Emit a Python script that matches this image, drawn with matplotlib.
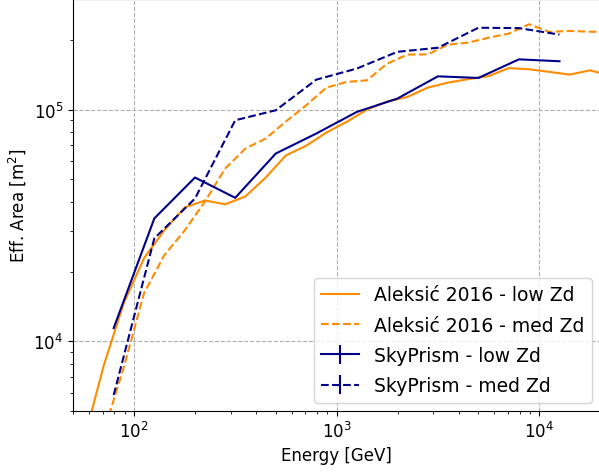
import matplotlib
matplotlib.use("Agg")
import matplotlib.pyplot as plt

plt.rcParams['mathtext.fontset'] = 'dejavusans'

# Aleksic 2016 reference curves (energy in GeV, area in m^2)
e_aleksic = [56, 71, 89, 112, 141, 178, 224, 282, 355, 447, 562, 708, 891,
             1122, 1413, 1778, 2239, 2818, 3548, 4467, 5623, 7079, 8913,
             11220, 14125, 17783, 22387]
a_low = [3600, 7890, 14600, 22800, 30100, 37800, 40500, 39000, 42200, 50900,
         63400, 69800, 79600, 88500, 100000, 108300, 113400, 124400, 130700,
         135300, 139400, 151000, 149200, 145400, 141500, 147600, 140200]
a_med = [2500, 4070, 7710, 16100, 23500, 30100, 40100, 55700, 67900, 75000,
         88800, 104300, 124400, 131600, 133700, 157900, 172700, 173000,
         190600, 194500, 204200, 212800, 233400, 216200, 218400, 216800,
         215800]

# SkyPrism
e_sky = [79.4, 126, 200, 316, 501, 794, 1259, 1995, 3162, 5012, 7943, 12589]
sky_low = [11400, 33900, 50900, 41600, 64600, 78800, 97700, 111500, 139100,
           136900, 164700, 161600]
sky_med = [5860, 27800, 41300, 89900, 99300, 134600, 150300, 177500, 184800,
           225500, 224600, 210600]
sky_err = [0] * len(e_sky)

fig = plt.figure(figsize=(5.99, 4.77), dpi=100)
ax = fig.add_axes([73 / 599, 65 / 477, 1 - 73 / 599 + 0.002, 412 / 477])

ax.plot(e_aleksic, a_low, color='darkorange', lw=1.5, label='Aleksić 2016 - low Zd')
ax.plot(e_aleksic, a_med, color='darkorange', lw=1.5, ls='--', label='Aleksić 2016 - med Zd')
ax.errorbar(e_sky, sky_low, yerr=sky_err, color='darkblue', lw=1.5, label='SkyPrism - low Zd')
ax.errorbar(e_sky, sky_med, yerr=sky_err, color='darkblue', lw=1.5, ls='--', label='SkyPrism - med Zd')

ax.set_xscale('log')
ax.set_yscale('log')
ax.set_xlim(50, 2e4)
ax.set_ylim(5e3, 3e5)
ax.grid(True, which='major', ls='--', color='#b0b0b0', lw=0.8)
ax.set_xlabel('Energy [GeV]', fontsize=12)
ax.set_ylabel('Eff. Area [m$^2$]', fontsize=12)
ax.tick_params(labelsize=12)
ax.legend(loc='lower right', fontsize=13.5, labelspacing=0.6, borderaxespad=0.45)

fig.savefig('out.png', dpi=100)
